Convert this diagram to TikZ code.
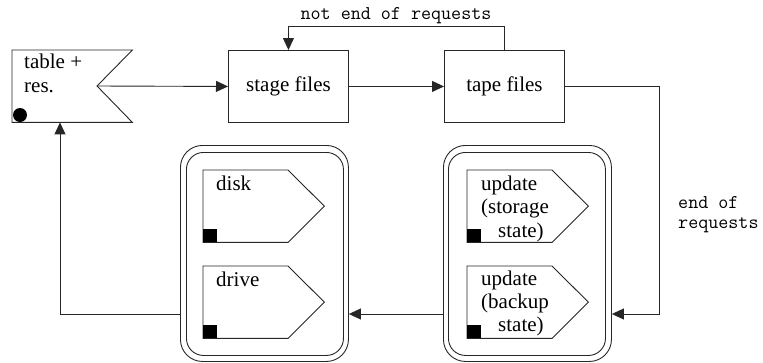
\documentclass[tikz,border=0pt]{standalone}
\usepackage{fontspec}
\setmainfont{Liberation Serif}
\usetikzlibrary{arrows.meta,calc}
\begin{document}
\begin{tikzpicture}[x=1pt,y=-1pt,
  ln/.style={line width=0.9pt, draw=black!85},
  arr/.style={ln, -{Triangle[length=12pt,width=11pt]}},
  serif/.style={font=\fontsize{21}{24}\selectfont, inner sep=0},
  mono/.style={font=\ttfamily\fontsize{19.5}{20}\selectfont, inner sep=0},
  box/.style={ln, serif, minimum width=120pt, minimum height=72pt, inner sep=0, anchor=north west},
  ghost/.style={minimum width=121pt, minimum height=72pt, inner sep=0, anchor=north west},
  outerg/.style={ln, rounded corners=22pt, minimum width=168pt, minimum height=216pt, inner sep=0, anchor=north west},
  innerg/.style={ln, rounded corners=17pt, minimum width=157pt, minimum height=203pt, inner sep=0, anchor=north west},
  sq/.style={fill=black, minimum width=14pt, minimum height=13pt, inner sep=0, anchor=south west},
]
\useasboundingbox (0,0) rectangle (763,362);

% table + res. flag
\node[ghost, minimum width=120pt] (table) at (12,50) {};
\coordinate (notch) at (97,86);
\draw[ln] (table.north west) -- (table.north east) -- (notch) -- (table.south east) -- (table.south west) -- cycle;
\node[circle, fill=black, minimum size=14pt, inner sep=0] (dot) at (20,115) {};
\node[serif, anchor=base west] (tab1) at (24,68) {table +};
\node[serif, anchor=base west] (tab2) at (24,92) {res.};

% top boxes
\node[box] (stage) at (228,50) {stage files};
\node[box] (tape) at (444,50) {tape files};

% groups
\node[outerg] (lout) at (180,145) {};
\node[innerg] (lin) at (186,152) {};
\node[outerg] (rout) at (443,145) {};
\node[innerg] (rin) at (448,152) {};

% pentagons
\newcommand{\pentagon}[1]{%
  \draw[ln] (#1.north west) -- ($(#1.north west)+(85,0)$) -- (#1.east) -- ($(#1.south west)+(85,0)$) -- (#1.south west) -- cycle;
  \node[sq] at (#1.south west) {};}
\node[ghost] (disk) at (203,170) {};
\node[ghost] (drive) at (203,266) {};
\node[ghost] (upd1) at (467,170) {};
\node[ghost] (upd2) at (467,266) {};
\pentagon{disk}
\pentagon{drive}
\pentagon{upd1}
\pentagon{upd2}

\node[serif, anchor=base west] (disktxt) at (216,190) {disk};
\node[serif, anchor=base west] (drivetxt) at (216,286) {drive};
\node[serif, anchor=base west] (u1a) at (481,190) {update};
\node[serif, anchor=base west] (u1b) at (481,213.5) {(storage};
\node[serif, anchor=base west] (u1c) at (498,237) {state)};
\node[serif, anchor=base west] (u2a) at (481,285) {update};
\node[serif, anchor=base west] (u2b) at (481,308) {(backup};
\node[serif, anchor=base west] (u2c) at (498,331) {state)};

% connectors
\coordinate (lvl) at (0,314);
\coordinate (upx) at (60,0);
\coordinate (loopy) at (0,26);
\coordinate (rx) at (659,0);
\draw[arr] (notch) -- (stage.west);
\draw[arr] (stage) -- (tape);
\draw[arr] (tape.north) -- (tape.north |- loopy) -| (stage.north);
\node[mono, anchor=base] (lbl1) at (396,19) {not end of requests};
\draw[arr] (tape.east) -- (tape.east -| rx) -- (rx |- lvl) -- (rout.east |- lvl);
\node[mono, anchor=base west] (lbl2a) at (678,208) {end of};
\node[mono, anchor=base west] (lbl2b) at (678,228) {requests};
\draw[arr] (rout.west |- lvl) -- (lout.east |- lvl);
\draw[arr] (lout.west |- lvl) -- (upx |- lvl) -- (table.south -| upx);
\end{tikzpicture}
\end{document}
